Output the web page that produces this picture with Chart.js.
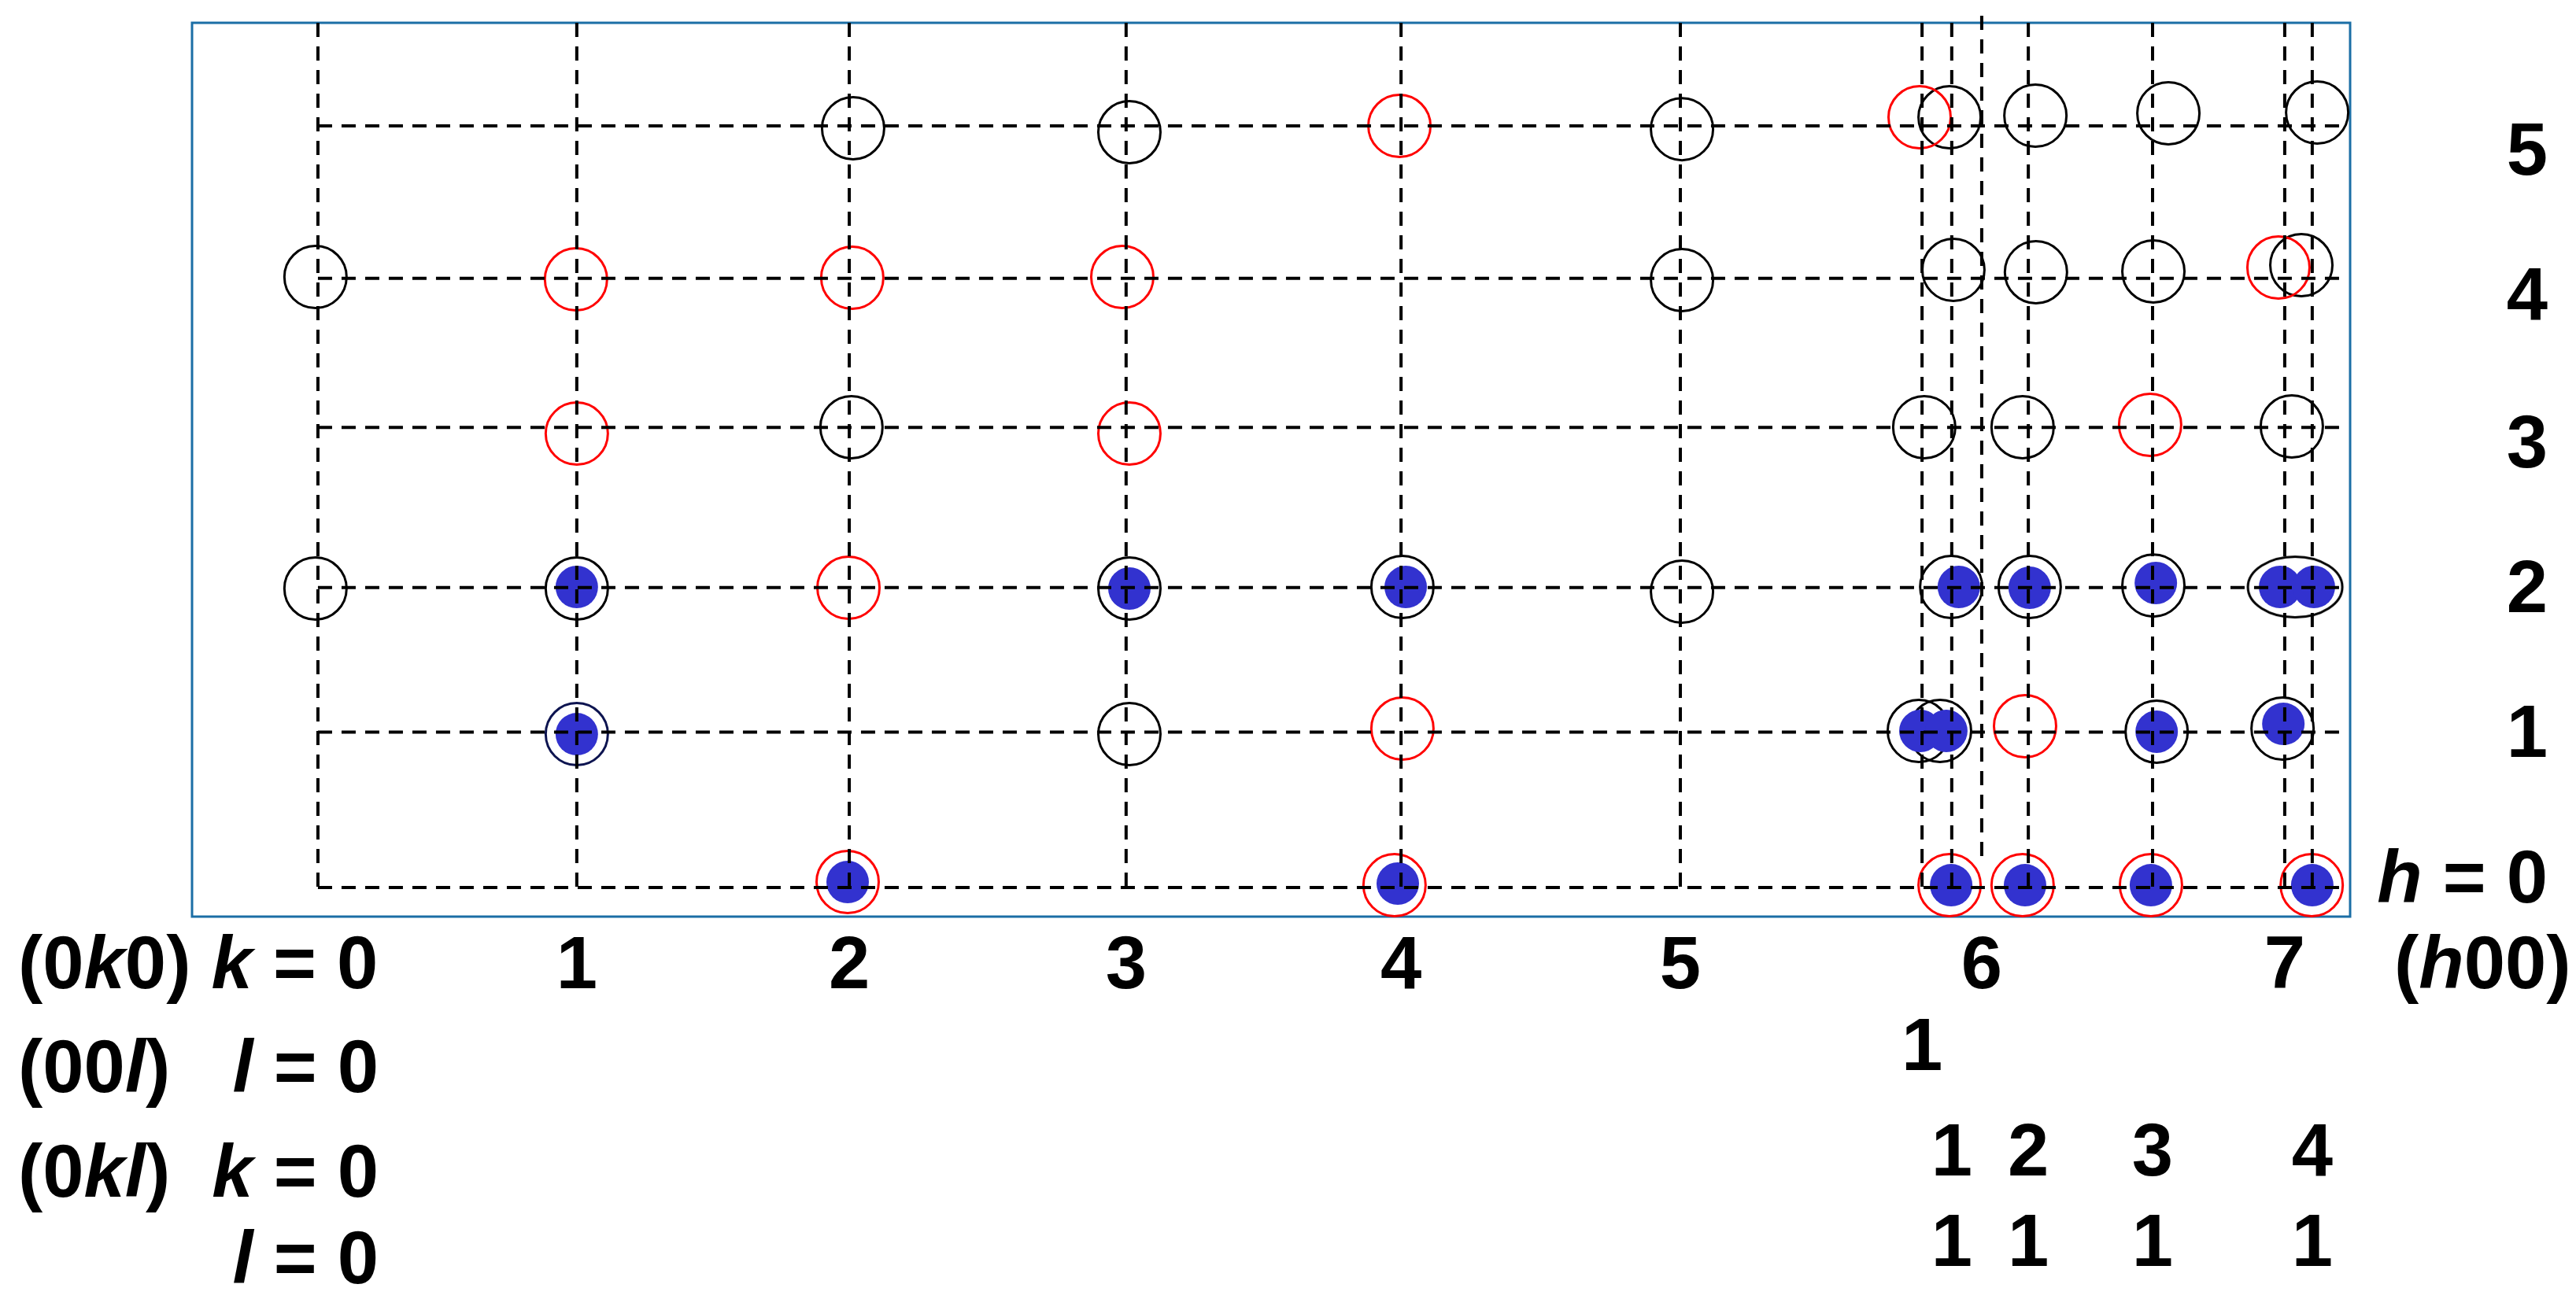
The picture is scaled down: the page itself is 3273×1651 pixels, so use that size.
<!DOCTYPE html>
<html>
<head>
<meta charset="utf-8">
<script src="https://cdn.jsdelivr.net/npm/chart.js@4.4.1/dist/chart.umd.min.js"></script>
<style>
  html, body { margin: 0; padding: 0; background: #fff; }
  canvas { display: block; }
</style>
</head>
<body>
<canvas id="reflChart" width="3273" height="1651"></canvas>
<script>
// positions of the reflections along the schematic axis (k0 line = 0, k5 line = 5)
const kLines = [0, 0.95, 1.95, 2.966, 3.975, 5.0, 6.106, 7.218];   // (0k0) k = 0..7
const lLines = [5.887];                                              // (00l) l = 1
const klLines = [5.996, 6.277, 6.733, 7.319];                        // (0kl) k = 1..4, l = 1
const hRows = [0, 1.02, 1.97, 3.02, 4.0, 5.0];                       // h = 0..5

const kTickLabels = ['1', '2', '3', '4', '5', '6', '7'];
const lTickLabels = ['1'];
const klTickK = ['1', '2', '3', '4'];
const klTickL = ['1', '1', '1', '1'];
const hRowLabels = ['h = 0', '1', '2', '3', '4', '5'];
const hLabelAt = [0.07, 1.03, 1.98, 2.93, 3.9, 4.85];

// open black circles [x, h]
const blackCircles = [
    [1.964, 4.985], [2.978, 4.959], [5.006, 4.979], [5.988, 5.057], [6.303, 5.067], [6.791, 5.083], [7.337, 5.088],
    [-0.009, 4.008], [5.006, 3.988], [6.002, 4.055], [6.305, 4.04], [6.736, 4.045], [7.279, 4.086],
    [1.958, 3.022], [5.895, 3.022], [6.256, 3.022], [7.244, 3.027],
    [-0.009, 1.963], [0.95, 1.963], [2.978, 1.963], [3.98, 1.973], [5.006, 1.942], [5.994, 1.973], [6.282, 1.973], [6.736, 1.983],
    [2.978, 1.007], [5.875, 1.028], [5.953, 1.028], [6.748, 1.023], [7.21, 1.043]
];
const navyCircles = [[0.95, 1.007]];
const ellipseMarks = [[7.256, 1.973]];

// open red circles
const redCircles = [
    [3.969, 5.0], [5.878, 5.057],
    [0.947, 3.993], [1.961, 4.003], [2.952, 4.008], [7.195, 4.07],
    [0.95, 2.98], [2.978, 2.98], [6.724, 3.037],
    [1.947, 1.968],
    [3.98, 1.043], [6.265, 1.059],
    [1.944, 0.036], [3.951, 0.015], [5.988, 0.015], [6.256, 0.015], [6.727, 0.015], [7.317, 0.015]
];

// filled blue dots
const blueDots = [
    [0.95, 1.973], [2.978, 1.963], [3.992, 1.973], [6.022, 1.973], [6.282, 1.968], [6.745, 1.999], [7.201, 1.973], [7.325, 1.973],
    [0.95, 1.007], [5.881, 1.028], [5.976, 1.028], [6.748, 1.023], [7.213, 1.074],
    [1.944, 0.036], [3.963, 0.026], [5.994, 0.015], [6.265, 0.015], [6.727, 0.015], [7.319, 0.015]
];

const X_MIN = -0.462, X_MAX = 7.458;
const Y_MIN = -0.191, Y_MAX = 5.677;

const FONT = '"Liberation Sans", Arial, sans-serif';
const toXY = (arr) => arr.map(p => ({ x: p[0], y: p[1] }));

const dashLine = (pts) => ({
    data: pts,
    showLine: true,
    borderColor: '#000',
    borderWidth: 4,
    borderDash: [18, 12],
    pointRadius: 0,
    fill: false,
    clip: false,
    order: 0
});

const marks = (pts, opts) => Object.assign({
    data: toXY(pts),
    pointStyle: 'circle',
    showLine: false,
    clip: false
}, opts);

// ellipse marker drawn on its own canvas, used as a point style
const ellipseStyle = document.createElement('canvas');
ellipseStyle.width = 130;
ellipseStyle.height = 86;
{
    const c = ellipseStyle.getContext('2d');
    c.strokeStyle = '#000';
    c.lineWidth = 3;
    c.beginPath();
    c.ellipse(65, 43, 60, 38.5, 0, 0, Math.PI * 2);
    c.stroke();
}

const verticals = [...kLines, ...lLines, ...klLines].map(x => {
    let top = Y_MAX, bottom = 0;
    if (x === kLines[6]) { top = 5.723; bottom = 0.15; }
    return dashLine([{ x: x, y: top }, { x: x, y: bottom }]);
});
const horizontals = hRows.map(y => dashLine([{ x: 0, y: y }, { x: X_MAX - 0.01, y: y }]));

// split a label into runs, the Miller index letters in italic
const toRuns = (str) => {
    const runs = [];
    for (const ch of str) {
        const it = /[hkl]/.test(ch);
        if (runs.length && runs[runs.length - 1].it === it) runs[runs.length - 1].t += ch;
        else runs.push({ t: ch, it: it });
    }
    return runs;
};

const drawLabel = (ctx, str, x, y, align) => {
    const runs = toRuns(str);
    let total = 0;
    runs.forEach(r => {
        ctx.font = (r.it ? 'italic ' : '') + 'bold 94px ' + FONT;
        r.w = ctx.measureText(r.t).width;
        total += r.w;
    });
    let cx = x;
    if (align === 'right') cx = x - total;
    if (align === 'center') cx = x - total / 2;
    runs.forEach(r => {
        ctx.font = (r.it ? 'italic ' : '') + 'bold 94px ' + FONT;
        ctx.fillText(r.t, cx, y);
        cx += r.w;
    });
};

const frameAndText = {
    id: 'frameAndText',
    beforeDatasetsDraw(chart) {
        const { ctx, chartArea: a } = chart;
        ctx.save();
        ctx.strokeStyle = '#1b6ea5';
        ctx.lineWidth = 3;
        ctx.strokeRect(a.left, a.top, a.right - a.left, a.bottom - a.top);
        ctx.restore();
    },
    afterDraw(chart) {
        const { ctx } = chart;
        const xs = chart.scales.x, ys = chart.scales.y;
        ctx.save();
        ctx.fillStyle = '#000';
        ctx.textBaseline = 'alphabetic';

        // left row titles
        drawLabel(ctx, '(0k0) k = 0', 23, 1256, 'left');
        drawLabel(ctx, '(00l)', 23, 1388, 'left');
        drawLabel(ctx, 'l = 0', 481, 1388, 'right');
        drawLabel(ctx, '(0kl)', 23, 1521, 'left');
        drawLabel(ctx, 'k = 0', 481, 1521, 'right');
        drawLabel(ctx, 'l = 0', 481, 1631, 'right');

        // index numbers under the lines
        kTickLabels.forEach((t, i) => drawLabel(ctx, t, xs.getPixelForValue(kLines[i + 1]), 1256, 'center'));
        drawLabel(ctx, '(h00)', 3042, 1256, 'left');
        lTickLabels.forEach((t, i) => drawLabel(ctx, t, xs.getPixelForValue(lLines[i]), 1360, 'center'));
        klTickK.forEach((t, i) => drawLabel(ctx, t, xs.getPixelForValue(klLines[i]), 1494, 'center'));
        klTickL.forEach((t, i) => drawLabel(ctx, t, xs.getPixelForValue(klLines[i]), 1609, 'center'));

        // h labels on the right
        hRowLabels.forEach((t, i) => drawLabel(ctx, t, 3237, ys.getPixelForValue(hLabelAt[i]) + 33, 'right'));
        ctx.restore();
    }
};

new Chart(document.getElementById('reflChart'), {
    type: 'scatter',
    data: {
        datasets: [
            ...verticals,
            ...horizontals,
            marks(blueDots, { pointRadius: 27, borderWidth: 0, backgroundColor: '#3232cf', borderColor: '#3232cf', order: 1 }),
            marks(redCircles, { pointRadius: 39.5, borderWidth: 3, borderColor: '#ff0000', backgroundColor: 'rgba(0,0,0,0)', order: 2 }),
            marks(navyCircles, { pointRadius: 39.5, borderWidth: 3, borderColor: '#0d1450', backgroundColor: 'rgba(0,0,0,0)', order: 3 }),
            marks(blackCircles, { pointRadius: 39.5, borderWidth: 3, borderColor: '#000', backgroundColor: 'rgba(0,0,0,0)', order: 3 }),
            marks(ellipseMarks, { pointStyle: ellipseStyle, pointRadius: 40, order: 3 })
        ]
    },
    options: {
        responsive: false,
        devicePixelRatio: 1,
        animation: false,
        events: [],
        layout: { autoPadding: false, padding: { left: 244, top: 29, right: 287, bottom: 486 } },
        plugins: { legend: { display: false }, tooltip: { enabled: false } },
        scales: {
            x: { type: 'linear', display: false, min: X_MIN, max: X_MAX },
            y: { type: 'linear', display: false, min: Y_MIN, max: Y_MAX }
        }
    },
    plugins: [frameAndText]
});
</script>
</body>
</html>
